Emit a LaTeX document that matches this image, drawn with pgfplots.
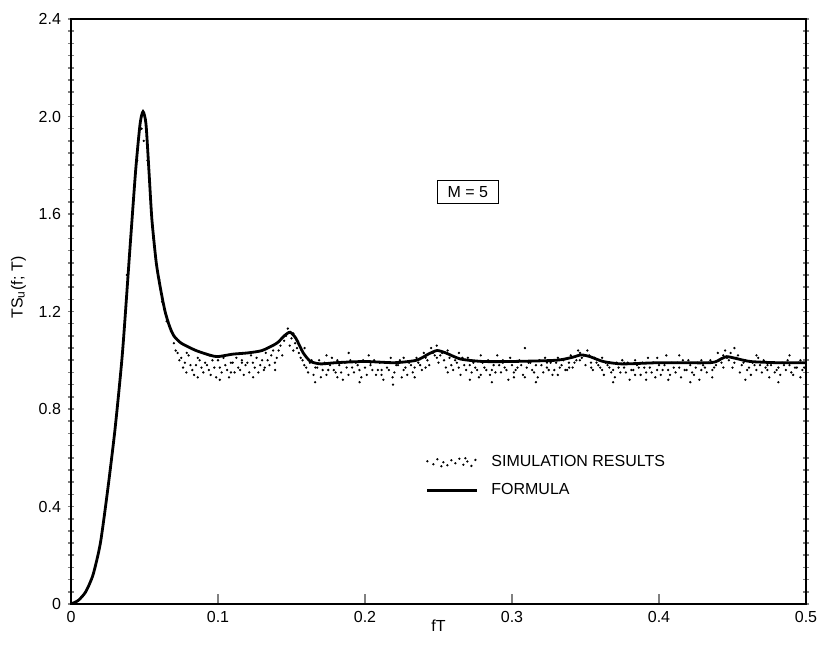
\documentclass[border=0pt]{standalone}
\usepackage{pgfplots}
\pgfplotsset{compat=1.18}
\usepackage{fontspec}
\setmainfont{Liberation Sans}
\begin{document}
\begin{tikzpicture}
\begin{axis}[
  name=ax,
  scale only axis,
  width=367.5pt, height=292.5pt,
  xmin=0, xmax=0.5, ymin=0, ymax=2.4,
  font=\fontsize{8}{9.5}\selectfont,
  /pgf/number format/assume math mode=true,
  axis line style={line width=1pt},
  xtick={0,0.1,0.2,0.3,0.4,0.5},
  xticklabels={0,0.1,0.2,0.3,0.4,0.5},
  ytick={0,0.4,0.8,1.2,1.6,2.0,2.4},
  yticklabels={0,0.4,0.8,1.2,1.6,2.0,2.4},
  minor y tick num=7,
  xtick pos=bottom,
  ytick pos=both,
  xtick align=inside,
  ytick align=center,
  major tick length=3pt,
  minor tick length=3pt,
  x tick style={line width=0.8pt, /pgfplots/major tick length=5pt},
  y tick style={line width=0.8pt},
  xlabel={fT},
  ylabel={TS\textsubscript{u}(f; T)},
  xlabel style={yshift=8pt},
  ylabel style={yshift=-0.5pt, xshift=12pt},
  legend style={at={(axis cs:0.237,0.645)}, anchor=north west, draw=none, fill=none,
    font=\fontsize{8}{9.5}\selectfont, row sep=3pt, cells={anchor=west}},
  legend cell align=left,
]
% simulation results (dots)
\addplot[only marks, mark=*, mark size=0.35pt, black, forget plot] coordinates {
(0.0700,1.07)(0.0725,1.03)(0.0750,1.01)(0.0775,0.99)(0.0800,1.02)(0.0825,0.96)(0.0850,0.98)(0.0875,1.00)
(0.0900,0.95)(0.0925,0.98)(0.0950,0.94)(0.0975,0.97)(0.1000,1.00)(0.1025,0.95)(0.1050,0.98)(0.1075,0.93)
(0.1100,0.99)(0.1125,1.01)(0.1150,0.96)(0.1175,0.94)(0.1200,0.99)(0.1225,1.02)(0.1250,0.97)(0.1275,0.95)
(0.1300,1.00)(0.1325,1.03)(0.1350,0.98)(0.1375,1.04)(0.1400,1.01)(0.1425,1.06)(0.1450,1.08)(0.1475,1.13)
(0.1500,1.09)(0.1525,1.07)(0.1550,1.03)(0.1575,1.00)(0.1600,0.97)(0.1625,0.99)(0.1650,0.94)(0.1675,0.97)
(0.1700,0.93)(0.1725,0.99)(0.1750,0.96)(0.1775,1.01)(0.1800,0.95)(0.1825,0.98)(0.1850,0.92)(0.1875,0.97)
(0.1900,1.00)(0.1925,0.95)(0.1950,0.98)(0.1975,0.93)(0.2000,0.97)(0.2025,1.02)(0.2050,0.96)(0.2075,0.94)
(0.2100,0.99)(0.2125,0.92)(0.2150,0.97)(0.2175,1.01)(0.2200,0.95)(0.2225,0.98)(0.2250,0.93)(0.2275,0.97)
(0.2300,0.99)(0.2325,0.95)(0.2350,1.01)(0.2375,0.98)(0.2400,1.03)(0.2425,1.00)(0.2450,1.05)(0.2475,1.02)
(0.2500,0.99)(0.2525,1.03)(0.2550,0.97)(0.2575,1.01)(0.2600,0.96)(0.2625,0.99)(0.2650,0.94)(0.2675,0.98)
(0.2700,1.01)(0.2725,0.95)(0.2750,0.97)(0.2775,0.93)(0.2800,0.99)(0.2825,0.96)(0.2850,0.94)(0.2875,0.98)
(0.2900,1.02)(0.2925,0.95)(0.2950,0.97)(0.2975,0.92)(0.3000,0.98)(0.3025,0.96)(0.3050,1.00)(0.3075,0.94)
(0.3100,0.97)(0.3125,0.99)(0.3150,0.95)(0.3175,0.93)(0.3200,0.98)(0.3225,1.01)(0.3250,0.96)(0.3275,0.94)
(0.3300,0.99)(0.3325,0.97)(0.3350,1.00)(0.3375,0.96)(0.3400,1.02)(0.3425,0.99)(0.3450,1.04)(0.3475,1.01)
(0.3500,0.98)(0.3525,1.02)(0.3550,0.96)(0.3575,0.99)(0.3600,0.97)(0.3625,0.94)(0.3650,0.98)(0.3675,0.95)
(0.3700,0.93)(0.3725,0.97)(0.3750,1.00)(0.3775,0.95)(0.3800,0.92)(0.3825,0.96)(0.3850,0.98)(0.3875,0.94)
(0.3900,0.97)(0.3925,1.01)(0.3950,0.95)(0.3975,0.93)(0.4000,0.98)(0.4025,0.96)(0.4050,1.02)(0.4075,0.94)
(0.4100,0.97)(0.4125,0.99)(0.4150,0.93)(0.4175,0.96)(0.4200,1.00)(0.4225,0.95)(0.4250,0.97)(0.4275,0.92)
(0.4300,0.98)(0.4325,0.95)(0.4350,1.00)(0.4375,0.97)(0.4400,1.03)(0.4425,0.99)(0.4450,1.04)(0.4475,1.00)
(0.4500,0.97)(0.4525,1.01)(0.4550,0.95)(0.4575,0.99)(0.4600,0.96)(0.4625,0.94)(0.4650,0.98)(0.4675,1.01)
(0.4700,0.95)(0.4725,0.97)(0.4750,0.93)(0.4775,0.99)(0.4800,0.96)(0.4825,0.94)(0.4850,0.98)(0.4875,1.00)
(0.4900,0.95)(0.4925,0.97)(0.4950,0.99)(0.4975,0.96)
};
\addplot[only marks, mark=*, mark size=0.35pt, black, forget plot] coordinates {
(0.07125,1.04)(0.07375,1.00)(0.07625,0.97)(0.07875,1.03)(0.08125,0.98)(0.08375,0.94)(0.08625,1.01)(0.08875,0.97)
(0.09125,0.99)(0.09375,0.96)(0.09625,1.00)(0.09875,0.93)(0.10125,0.97)(0.10375,1.01)(0.10625,0.96)(0.10875,0.99)
(0.11125,0.95)(0.11375,0.97)(0.11625,1.00)(0.11875,0.98)(0.12125,0.95)(0.12375,0.99)(0.12625,1.01)(0.12875,0.98)
(0.13125,0.96)(0.13375,1.00)(0.13625,1.02)(0.13875,0.99)(0.14125,1.04)(0.14375,1.02)(0.14625,1.10)(0.14875,1.06)
(0.15125,1.11)(0.15375,1.05)(0.15625,1.01)(0.15875,0.98)(0.16125,0.95)(0.16375,1.00)(0.16625,0.97)(0.16875,1.00)
(0.17125,0.96)(0.17375,0.94)(0.17625,0.98)(0.17875,0.96)(0.18125,1.00)(0.18375,0.95)(0.18625,0.99)(0.18875,0.94)
(0.19125,0.97)(0.19375,0.99)(0.19625,0.96)(0.19875,1.00)(0.20125,0.94)(0.20375,0.98)(0.20625,1.00)(0.20875,0.96)
(0.21125,0.94)(0.21375,0.99)(0.21625,0.96)(0.21875,0.93)(0.22125,0.98)(0.22375,1.00)(0.22625,0.96)(0.22875,0.94)
(0.23125,0.98)(0.23375,0.97)(0.23625,0.99)(0.23875,0.96)(0.24125,1.01)(0.24375,0.98)(0.24625,1.03)(0.24875,1.06)
(0.25125,1.02)(0.25375,1.00)(0.25625,1.04)(0.25875,0.98)(0.26125,1.00)(0.26375,0.97)(0.26625,1.01)(0.26875,0.96)
(0.27125,0.98)(0.27375,0.99)(0.27625,0.96)(0.27875,0.94)(0.28125,0.97)(0.28375,1.00)(0.28625,0.96)(0.28875,0.95)
(0.29125,0.98)(0.29375,0.99)(0.29625,0.96)(0.29875,1.01)(0.30125,0.95)(0.30375,0.97)(0.30625,0.98)(0.30875,0.93)
(0.31125,0.99)(0.31375,0.96)(0.31625,0.98)(0.31875,1.00)(0.32125,0.95)(0.32375,0.97)(0.32625,0.99)(0.32875,0.96)
(0.33125,1.01)(0.33375,0.98)(0.33625,0.96)(0.33875,0.99)(0.34125,0.97)(0.34375,1.00)(0.34625,1.03)(0.34875,1.02)
(0.35125,1.04)(0.35375,0.99)(0.35625,1.01)(0.35875,0.98)(0.36125,0.96)(0.36375,0.99)(0.36625,0.97)(0.36875,0.96)
(0.37125,0.99)(0.37375,0.95)(0.37625,0.97)(0.37875,0.99)(0.38125,0.96)(0.38375,0.94)(0.38625,0.97)(0.38875,0.99)
(0.39125,0.95)(0.39375,0.97)(0.39625,0.99)(0.39875,0.96)(0.40125,0.94)(0.40375,0.98)(0.40625,0.96)(0.40875,0.99)
(0.41125,0.95)(0.41375,0.97)(0.41625,1.00)(0.41875,0.96)(0.42125,0.98)(0.42375,0.94)(0.42625,0.99)(0.42875,0.96)
(0.43125,0.97)(0.43375,0.99)(0.43625,0.96)(0.43875,0.98)(0.44125,1.00)(0.44375,1.02)(0.44625,1.01)(0.44875,1.03)
(0.45125,0.99)(0.45375,1.02)(0.45625,0.98)(0.45875,1.00)(0.46125,0.97)(0.46375,0.99)(0.46625,0.96)(0.46875,0.98)
(0.47125,1.00)(0.47375,0.96)(0.47625,0.98)(0.47875,0.95)(0.48125,0.97)(0.48375,0.99)(0.48625,0.96)(0.48875,0.98)
(0.49125,0.94)(0.49375,0.97)(0.49625,1.00)(0.49875,0.97)
};
\addplot[only marks, mark=*, mark size=0.35pt, black, forget plot] coordinates {
(0.0785,0.95)(0.0862,0.93)(0.0941,1.02)(0.1012,0.92)(0.1088,0.95)(0.1163,0.99)(0.1239,0.93)(0.1318,0.97)
(0.1389,0.96)(0.1512,1.04)(0.1589,1.05)(0.1661,0.91)(0.1738,1.02)(0.1812,0.93)(0.1889,1.03)(0.1963,0.91)
(0.2038,0.99)(0.2113,0.96)(0.2191,0.90)(0.2263,1.01)(0.2338,0.93)(0.2412,0.97)(0.2489,1.01)(0.2563,0.95)
(0.2639,1.03)(0.2714,0.92)(0.2788,1.02)(0.2863,0.91)(0.2938,1.00)(0.3013,0.93)(0.3088,1.05)(0.3163,0.91)
(0.3238,0.99)(0.3312,0.94)(0.3389,0.97)(0.3462,1.00)(0.3539,0.97)(0.3613,1.01)(0.3688,0.91)(0.3763,0.99)
(0.3838,1.00)(0.3912,0.92)(0.3988,1.01)(0.4063,0.92)(0.4138,1.02)(0.4213,0.91)(0.4288,1.00)(0.4362,0.93)
(0.4438,0.97)(0.4513,1.05)(0.4588,0.92)(0.4663,1.02)(0.4738,0.98)(0.4812,0.91)(0.4888,1.02)(0.4962,0.93)
};
\addplot[only marks, mark=*, mark size=0.35pt, black, forget plot] coordinates {
(0.038,1.35)(0.041,1.55)(0.045,1.82)(0.048,1.95)(0.0495,1.90)(0.052,1.82)(0.056,1.50)
(0.060,1.33)(0.062,1.24)(0.065,1.16)(0.068,1.12)
};
% formula
\addplot[black, line width=1.4pt, smooth, tension=0.4, forget plot] coordinates {
(0,0)(0.005,0.015)(0.01,0.05)(0.015,0.12)(0.02,0.25)(0.025,0.47)(0.03,0.72)(0.035,1.03)
(0.04,1.45)(0.044,1.78)(0.047,1.97)(0.049,2.02)(0.051,1.97)(0.053,1.78)(0.055,1.58)(0.058,1.40)
(0.061,1.29)(0.064,1.20)(0.067,1.14)(0.070,1.10)(0.075,1.07)(0.085,1.04)(0.095,1.02)(0.10,1.015)
(0.11,1.025)(0.12,1.03)(0.13,1.04)(0.14,1.07)(0.145,1.10)(0.149,1.115)(0.153,1.09)(0.158,1.03)
(0.163,0.995)(0.17,0.985)(0.18,0.99)(0.2,0.995)(0.22,0.99)(0.235,1.00)(0.243,1.025)(0.249,1.04)
(0.255,1.03)(0.265,1.005)(0.28,0.995)(0.3,0.995)(0.33,1.00)(0.341,1.012)(0.347,1.022)(0.353,1.015)
(0.362,0.995)(0.375,0.985)(0.4,0.99)(0.435,0.99)(0.442,1.005)(0.446,1.015)(0.452,1.008)(0.462,0.995)
(0.48,0.99)(0.5,0.99)
};
\addlegendimage{legend image code/.code={
  \foreach \p in {(0pt,0.5pt),(3pt,-1pt),(5pt,1.5pt),(8pt,0pt),(10pt,-1.5pt),(12pt,1pt),(14pt,-0.5pt),
    (16pt,1.8pt),(18pt,-1.2pt),(20pt,0.4pt),(22pt,-1.8pt),(24pt,1.2pt),(7pt,-2pt),(19pt,2pt)}
    {\fill[black] \p circle (0.35pt);}
  \path[draw=none, fill=none] (0pt,0pt) -- (30pt,0pt);
}}
\addlegendentry{SIMULATION RESULTS}
\addlegendimage{legend image code/.code={\draw[black, line width=1.6pt] (0pt,0pt) -- (25pt,0pt); \path[draw=none, fill=none] (0pt,0pt) -- (30pt,0pt);}}
\addlegendentry{FORMULA}
\node[draw, line width=0.6pt, inner xsep=5pt, inner ysep=2.5pt, minimum height=11.5pt, font=\fontsize{8}{9.5}\selectfont] at (axis cs:0.270,1.69) {M = 5};
\end{axis}
\pgfresetboundingbox
\path[use as bounding box] ([shift={(-35.5pt,-20.5pt)}]ax.south west) rectangle ([shift={(5.5pt,9.5pt)}]ax.north east);
\end{tikzpicture}
\end{document}
